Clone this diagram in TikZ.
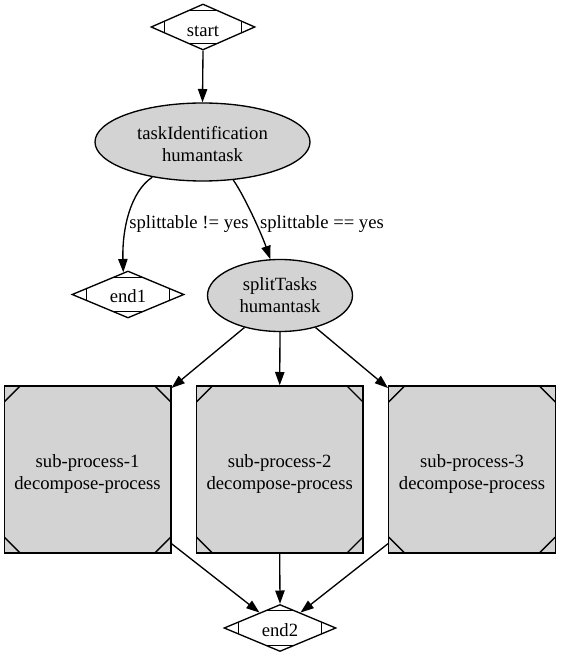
\documentclass[tikz,border=0pt]{standalone}
\usepackage{fontspec}
\setmainfont{Liberation Serif}
\usetikzlibrary{shapes.geometric,arrows.meta,calc}
\definecolor{nodegray}{HTML}{D3D3D3}
\newcommand{\downby}[2]{\raisebox{0pt}[\dimexpr\height+#1*2\relax][\depth]{#2}}
\newcommand{\twolines}[3][3pt]{\downby{#1}{\begin{tabular}{@{}c@{}}#2\\#3\end{tabular}}}
\newcommand{\oneline}[2][2pt]{\downby{#1}{#2}}
\begin{document}
\begin{tikzpicture}[x=0.75pt,y=-0.75pt,
  every node/.style={font=\fontsize{14}{16.5}\selectfont},
  base/.style={draw=black, line width=1pt, inner sep=0pt, align=center},
  mdia/.style={base, diamond, shape aspect=2.3, fill=white, minimum width=84pt, minimum height=35.25pt,
    path picture={
      \coordinate (pnw) at (path picture bounding box.north west);
      \coordinate (pne) at (path picture bounding box.north east);
      \coordinate (psw) at (path picture bounding box.south west);
      \coordinate (pse) at (path picture bounding box.south east);
      \draw[line width=1pt] ($(pnw)!0.13!(psw)$) -- ($(pne)!0.13!(pse)$);
      \draw[line width=1pt] ($(psw)!0.13!(pnw)$) -- ($(pse)!0.13!(pne)$);
      \draw[line width=1pt] ($(pnw)!0.13!(pne)$) -- ($(psw)!0.13!(pse)$);
      \draw[line width=1pt] ($(pne)!0.13!(pnw)$) -- ($(pse)!0.13!(psw)$);
    }},
  ell/.style={base, ellipse, fill=nodegray},
  msq/.style={base, rectangle, fill=nodegray, minimum width=125pt, minimum height=125.25pt,
    path picture={
      \coordinate (pnw) at (path picture bounding box.north west);
      \coordinate (pne) at (path picture bounding box.north east);
      \coordinate (psw) at (path picture bounding box.south west);
      \coordinate (pse) at (path picture bounding box.south east);
      \draw[line width=1pt] ([yshift=-12pt]pnw) -- ([xshift=12pt]pnw);
      \draw[line width=1pt] ([yshift=-12pt]pne) -- ([xshift=-12pt]pne);
      \draw[line width=1pt] ([yshift=12pt]psw) -- ([xshift=12pt]psw);
      \draw[line width=1pt] ([yshift=12pt]pse) -- ([xshift=-12pt]pse);
    }},
  arr/.style={line width=1pt, -{Triangle[length=10pt,width=7pt]}},
  lab/.style={inner sep=1pt}
]
\useasboundingbox (0,0) rectangle (560,659);

\node[mdia, minimum width=78pt, minimum height=34.5pt] (start) at (203,27) {\oneline[3pt]{start}};
\node[ell, minimum width=161.25pt, minimum height=58.5pt] (task) at (202.5,142) {\twolines[3pt]{taskIdentification}{humantask}};
\node[mdia] (end1) at (128,294.5) {\oneline[1.5pt]{end1}};
\node[ell, minimum width=108.75pt, minimum height=54pt] (split) at (280,295.5) {\twolines[1.5pt]{splitTasks}{humantask}};
\node[msq] (sq1) at (87.5,469.5) {\twolines[3.5pt]{sub-process-1}{decompose-process}};
\node[msq] (sq2) at (279.7,469.5) {\twolines[3.5pt]{sub-process-2}{decompose-process}};
\node[msq] (sq3) at (472,469.5) {\twolines[3.5pt]{sub-process-3}{decompose-process}};
\node[mdia] (end2) at (280,628) {\oneline[1.5pt]{end2}};

\node[lab] (lab1) at (189,224) {splittable != yes};
\node[lab] (lab2) at (322,224) {splittable == yes};

\draw[arr] (start.south) -- (task.north);
\draw[arr] (task.215) .. controls (130,192) and (122,230) .. (end1.102);
\draw[arr] (task.-51.5) .. controls (245,197) and (262,235) .. (split.105);
\draw[arr] (split.222) -- ([yshift=-2pt]sq1.north east);
\draw[arr] (split.south) -- (sq2.north);
\draw[arr] (split.-42) -- ([yshift=-2pt]sq3.north west);
\draw[arr] ([yshift=7.5pt]sq1.south east) -- (end2.143);
\draw[arr] (sq2.south) -- (end2.north);
\draw[arr] ([yshift=7.5pt]sq3.south west) -- (end2.37);
\end{tikzpicture}
\end{document}
